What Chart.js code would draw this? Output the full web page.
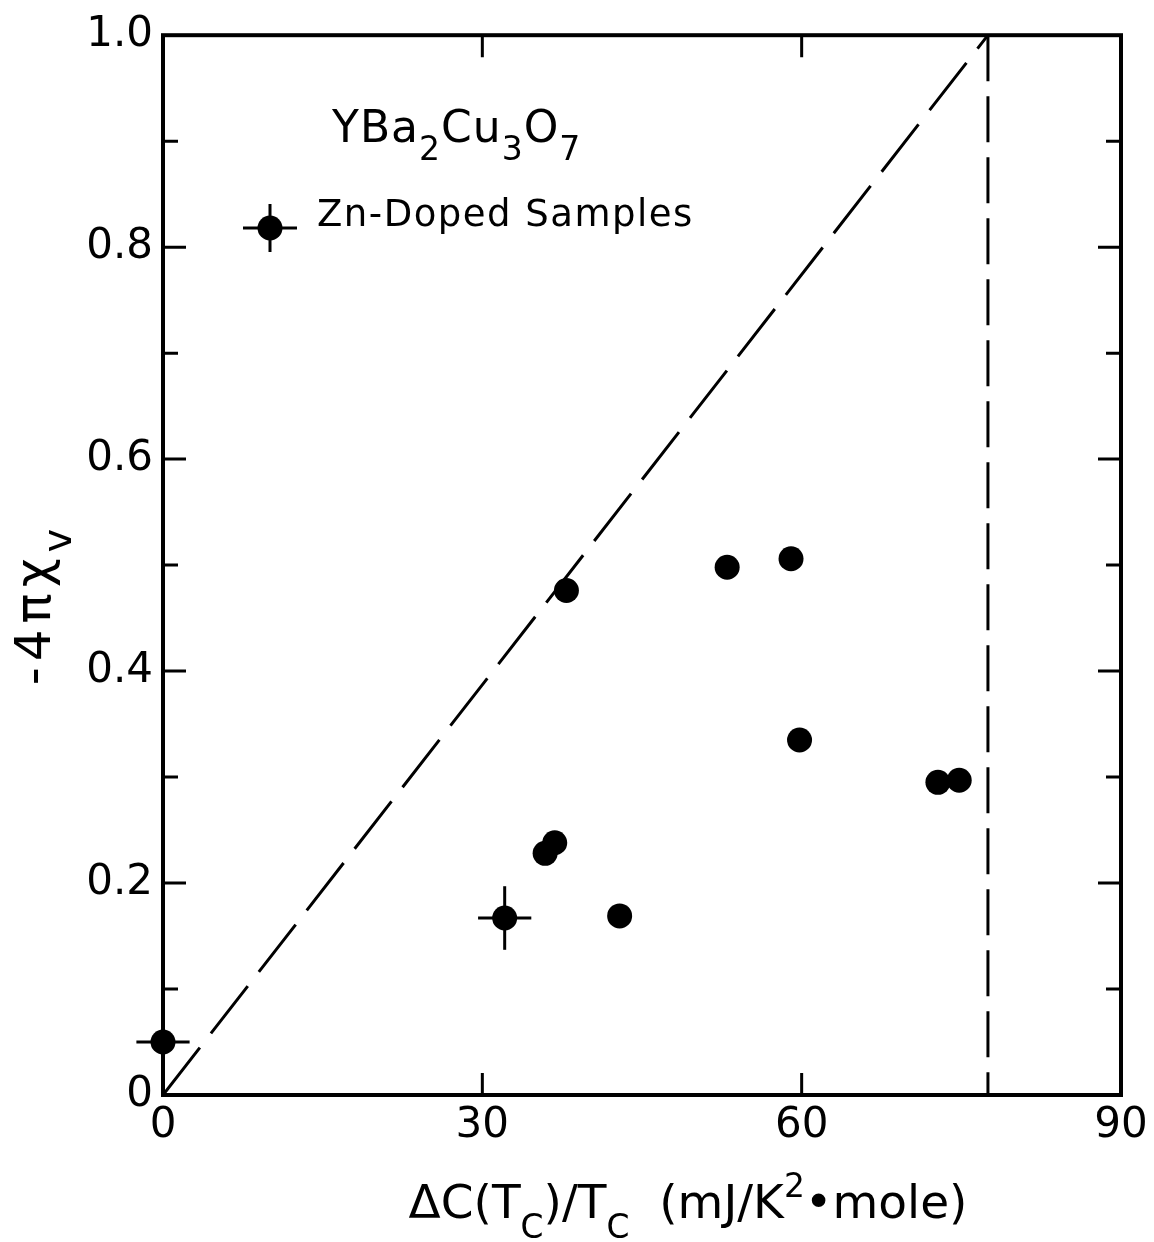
<!DOCTYPE html>
<html>
<head>
<meta charset="utf-8">
<script src="https://cdn.jsdelivr.net/npm/chart.js@4.4.1/dist/chart.umd.min.js"></script>
<style>
  html, body { margin: 0; padding: 0; background: #fff; }
  canvas { display: block; }
</style>
</head>
<body>
<canvas id="chart" width="1154" height="1242"></canvas>
<script>
// data
const xVals = [0, 32.1, 35.9, 36.8, 37.9, 42.9, 53.0, 59.0, 59.8, 72.8, 74.8];
const yVals = [0.050, 0.167, 0.228, 0.238, 0.476, 0.169, 0.498, 0.506, 0.335, 0.295, 0.297];
const xErr  = [2.5, 2.5, 0, 0, 0, 0, 0, 0, 0, 0, 0];
const yErr  = [0.022, 0.030, 0, 0, 0, 0, 0, 0, 0, 0, 0];

// dashed guide lines
const diagX = [0, 77.5];
const diagY = [0, 1.0];
const vertX = [77.5, 77.5];
const vertY = [1.0, 0];

const xTickVals = [0, 30, 60, 90];
const seriesLabel = 'Zn-Doped Samples';

const FONT = '"DejaVu Sans", sans-serif';

function pts(xs, ys) {
  return xs.map((x, i) => ({x: x, y: ys[i]}));
}

// draw text with sub/superscripts; parts = [[text, shift]] shift: 0 normal, 1 sub, -1 sup
function rich(ctx, parts, x, y, size, align, spacing, subScale) {
  ctx.save();
  ctx.letterSpacing = (spacing || 0) + 'px';
  const ss = subScale || 0.7;
  let w = 0;
  const items = parts.map(p => {
    const s = p[1] ? size * ss : size;
    ctx.font = s + 'px ' + FONT;
    const m = ctx.measureText(p[0]).width;
    w += m;
    return {t: p[0], s: s, shift: p[1], w: m};
  });
  let cx = align === 'center' ? x - w / 2 : x;
  ctx.textBaseline = 'alphabetic';
  ctx.textAlign = 'left';
  ctx.fillStyle = '#000';
  items.forEach(it => {
    ctx.font = it.s + 'px ' + FONT;
    let dy = 0;
    if (it.shift === 1) dy = size * 0.42;
    if (it.shift === -1) dy = -size * 0.45;
    ctx.fillText(it.t, cx, y + dy);
    cx += it.w;
  });
  ctx.restore();
}

const errorBars = {
  id: 'errorBars',
  beforeDatasetsDraw(chart) {
    const ctx = chart.ctx, xs = chart.scales.x, ys = chart.scales.y;
    ctx.save();
    ctx.strokeStyle = '#000';
    ctx.lineWidth = 3;
    xVals.forEach((xv, i) => {
      const px = xs.getPixelForValue(xv), py = ys.getPixelForValue(yVals[i]);
      if (xErr[i]) {
        ctx.beginPath();
        ctx.moveTo(xs.getPixelForValue(xv - xErr[i]), py);
        ctx.lineTo(xs.getPixelForValue(xv + xErr[i]), py);
        ctx.stroke();
      }
      if (yErr[i]) {
        ctx.beginPath();
        ctx.moveTo(px, ys.getPixelForValue(yVals[i] - yErr[i]));
        ctx.lineTo(px, ys.getPixelForValue(yVals[i] + yErr[i]));
        ctx.stroke();
      }
    });
    ctx.restore();
  }
};

const frame = {
  id: 'frame',
  afterDraw(chart) {
    const ctx = chart.ctx, a = chart.chartArea;
    const xs = chart.scales.x, ys = chart.scales.y;
    ctx.save();
    ctx.strokeStyle = '#000';
    ctx.lineWidth = 4;
    ctx.strokeRect(a.left, a.top, a.right - a.left, a.bottom - a.top);

    // inward ticks on all four sides
    ctx.lineWidth = 3;
    ys.ticks.forEach(t => {
      const k = Math.round(t.value * 10);
      if (k === 0 || k === 10) return;
      const len = k % 2 ? 15 : 23;
      const py = ys.getPixelForValue(t.value);
      ctx.beginPath();
      ctx.moveTo(a.left, py); ctx.lineTo(a.left + len, py);
      ctx.moveTo(a.right, py); ctx.lineTo(a.right - len, py);
      ctx.stroke();
    });
    xs.ticks.forEach(t => {
      if (t.value <= 0 || t.value >= 90) return;
      const px = xs.getPixelForValue(t.value);
      ctx.beginPath();
      ctx.moveTo(px, a.bottom); ctx.lineTo(px, a.bottom - 22);
      ctx.moveTo(px, a.top); ctx.lineTo(px, a.top + 22);
      ctx.stroke();
    });

    // compound label
    rich(ctx, [['YBa', 0], ['2', 1], ['Cu', 0], ['3', 1], ['O', 0], ['7', 1]], 332, 142, 44, 'left', 1, 0.75);

    // legend
    const lx = 270, ly = 228;
    ctx.lineWidth = 3;
    ctx.beginPath();
    ctx.moveTo(lx - 27, ly); ctx.lineTo(lx + 27, ly);
    ctx.moveTo(lx, ly - 24); ctx.lineTo(lx, ly + 24);
    ctx.stroke();
    ctx.beginPath();
    ctx.arc(lx, ly, 12.5, 0, Math.PI * 2);
    ctx.fillStyle = '#000';
    ctx.fill();
    rich(ctx, [[seriesLabel, 0]], 317, 226, 37, 'left', 1.5);

    // axis titles
    rich(ctx, [['\u0394C(T', 0], ['C', 1], [')/T', 0], ['C', 1], ['  (mJ/K', 0], ['2', -1], ['\u2022mole)', 0]],
      688, 1218, 47, 'center', 0);

    ctx.save();
    ctx.translate(50, 604);
    ctx.rotate(-Math.PI / 2);
    rich(ctx, [['-4\u03c0\u03c7', 0], ['v', 1]], 0, 0, 50, 'center', 6, 0.8);
    ctx.restore();

    ctx.restore();
  }
};

new Chart(document.getElementById('chart'), {
  type: 'scatter',
  data: {
    datasets: [{
      label: seriesLabel,
      data: pts(xVals, yVals),
      pointRadius: 12.5,
      pointHoverRadius: 12.5,
      backgroundColor: '#000',
      borderWidth: 0,
      clip: false
    }, {
      type: 'line',
      label: 'diag',
      data: pts(diagX, diagY),
      showLine: true,
      borderColor: '#000',
      borderWidth: 3,
      borderDash: [60, 18],
      pointRadius: 0,
      fill: false
    }, {
      type: 'line',
      label: 'limit',
      data: pts(vertX, vertY),
      showLine: true,
      borderColor: '#000',
      borderWidth: 3,
      borderDash: [46, 15],
      pointRadius: 0,
      fill: false
    }]
  },
  options: {
    responsive: false,
    animation: false,
    events: [],
    layout: {padding: {top: 33, right: 33, left: 0, bottom: 0}},
    plugins: {legend: {display: false}, tooltip: {enabled: false}},
    scales: {
      x: {
        type: 'linear',
        min: 0, max: 90,
        afterBuildTicks: s => { s.ticks = xTickVals.map(v => ({value: v})); },
        afterFit: s => { s.height = 147; },
        grid: {display: false, drawTicks: false},
        border: {display: false},
        ticks: {
          color: '#000',
          font: {family: FONT, size: 42},
          padding: 6,
          callback: v => String(v)
        }
      },
      y: {
        min: 0, max: 1.0,
        afterFit: s => { s.width = 163; },
        grid: {display: false, drawTicks: false},
        border: {display: false},
        ticks: {
          stepSize: 0.1,
          autoSkip: false,
          color: '#000',
          font: {family: FONT, size: 42},
          padding: 10,
          callback: v => {
            const k = Math.round(v * 10);
            if (k % 2) return '';
            return k === 0 ? '0' : (k / 10).toFixed(1);
          }
        }
      }
    }
  },
  plugins: [errorBars, frame]
});
</script>
</body>
</html>
